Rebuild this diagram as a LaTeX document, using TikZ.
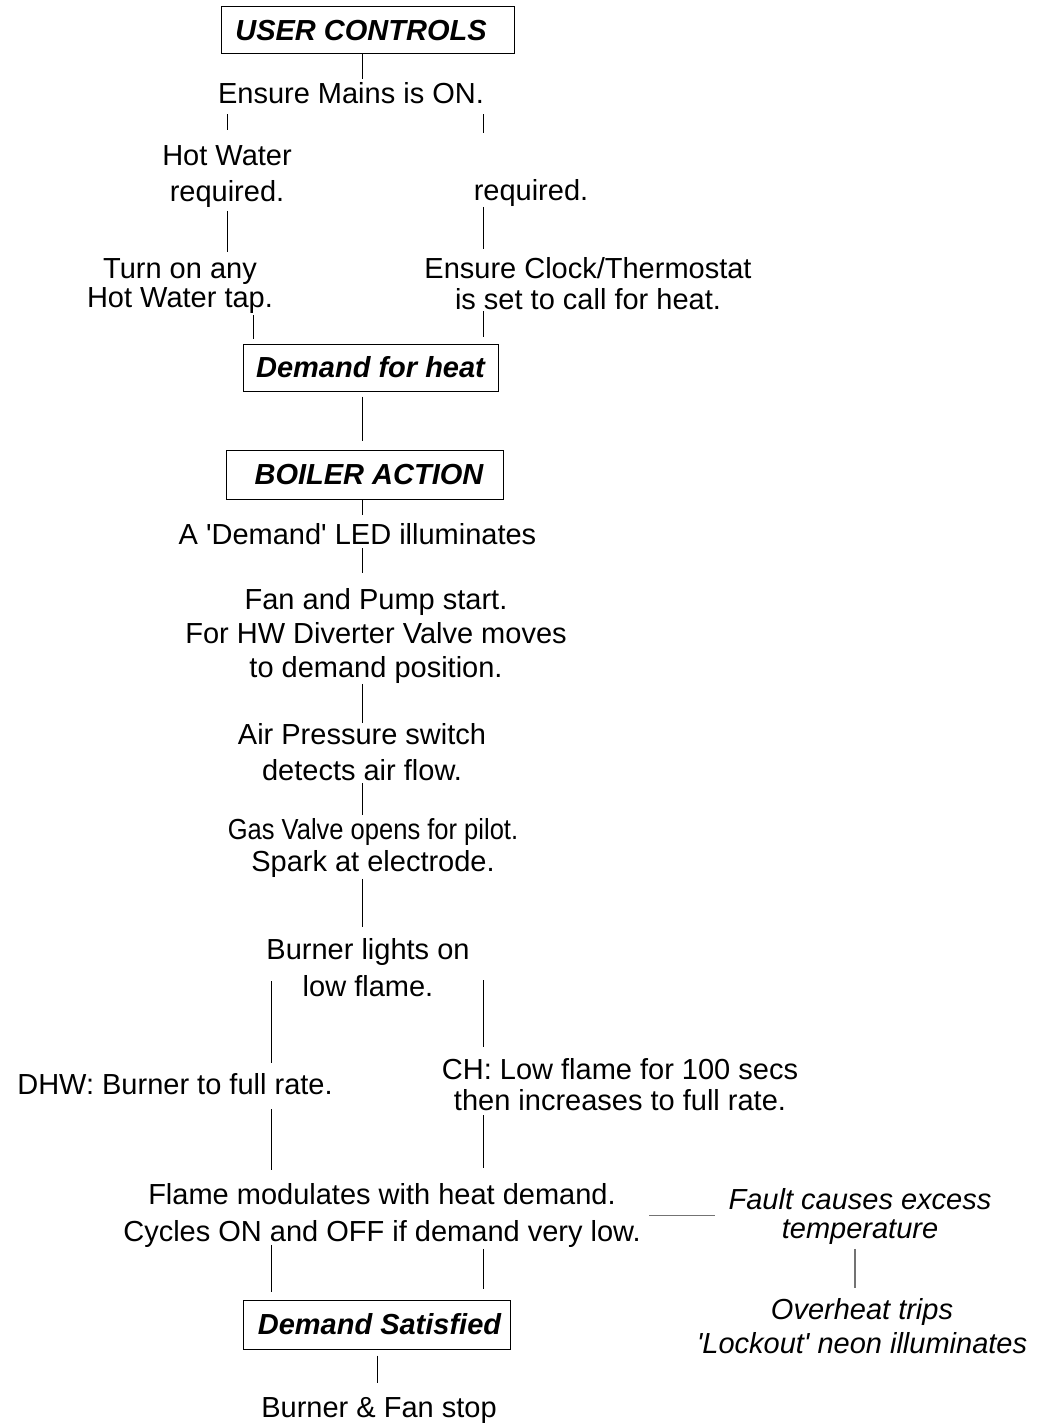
\documentclass[tikz,border=0pt]{standalone}
\usepackage{fontspec}
\setmainfont{Liberation Sans}
\newfontfamily\narrowfont[FakeStretch=0.88]{Liberation Sans}

\begin{document}
\begin{tikzpicture}[
		x=0.5pt, y=-0.5pt,
		box/.style={draw, line width=0.5pt, inner sep=0pt, font=\fontsize{14.5pt}{16pt}\selectfont\bfseries\itshape},
		txt/.style={align=center, inner sep=0pt, anchor=north, font=\fontsize{14.5pt}{#1}\selectfont},
		txt/.default=16pt,
		ital/.style={txt=#1, font=\fontsize{14.5pt}{#1}\selectfont\itshape},
		ln/.style={line width=0.5pt},
		fln/.style={line width=0.8pt, black!55}
	]
	\useasboundingbox (0,0) rectangle (1046,1423);

	\node[box, minimum width=146.5pt, minimum height=23.5pt] (user) at (368,30.5) {USER CONTROLS\hspace*{7pt}};
	\node[txt] (mains) at (351,82) {Ensure Mains is ON.};
	\node[txt=18pt] (hw) at (227,145) {Hot Water\\ required.};
	\node[txt] (heat) at (531,179) {required.};
	\node[txt=14.5pt] (tap) at (180,258) {Turn on any\\ Hot Water tap.};
	\node[txt=15.5pt] (clock) at (588,257) {Ensure Clock/Thermostat\\ is set to call for heat.};
	\node[box, minimum width=127.5pt, minimum height=23.5pt] (demand) at (370.5,367.5) {Demand for heat};

	\node[box, minimum width=138.5pt, minimum height=24.5pt] (boiler) at (364.5,474.5) {\hspace*{4.5pt}BOILER ACTION};
	\node[txt] (led) at (357.5,523) {A \textquotesingle Demand\textquotesingle{} LED illuminates};
	\node[txt=17pt] (fan) at (376,588) {Fan and Pump start.\\ For HW Diverter Valve moves\\ to demand position.};
	\node[txt=18pt] (air) at (362,723) {Air Pressure switch\\ detects air flow.};
	\node[txt=16pt] (gas) at (373,818) {{\narrowfont Gas Valve opens for pilot.}\\ Spark at electrode.};
	\node[txt=18.5pt] (burn) at (368,938) {Burner lights on\\ low flame.};
	\node[txt] (dhw) at (175,1073) {DHW: Burner to full rate.};
	\node[txt=15.5pt] (ch) at (620,1058) {CH: Low flame for 100 secs\\ then increases to full rate.};
	\node[txt=18.5pt] (flame) at (382,1183) {Flame modulates with heat demand.\\ Cycles ON and OFF if demand very low.};
	\node[ital=14.5pt] (fault) at (860,1188) {Fault causes excess\\ temperature};
	\node[ital=17pt] (over) at (862,1298) {Overheat trips\\ \textquotesingle Lockout\textquotesingle{} neon illuminates};
	\node[box, minimum width=133.5pt, minimum height=24.5pt] (sat) at (376.5,1324.5) {\hspace*{3pt}Demand Satisfied};
	\node[txt] (stop) at (379,1397) {Burner \& Fan stop};

	\coordinate (cM) at (362.5,0);
	\coordinate (cL) at (227,0);
	\coordinate (cT) at (253,0);
	\coordinate (cR) at (483,0);
	\coordinate (cD) at (271,0);
	\coordinate (cS) at (377,0);
	\coordinate (cF) at (855,0);

	\draw[ln, shorten >=1.5pt] (user.south -| cM) -- (mains.north -| cM);
	\draw[ln, shorten <=5pt, shorten >=7.5pt] (mains.south -| cL) -- (hw.north -| cL);
	\draw[ln, shorten <=5pt, shorten >=23pt] (mains.south -| cR) -- (heat.north -| cR);
	\draw[ln, shorten <=1.5pt, shorten >=3pt] (hw.south -| cL) -- (tap.north -| cL);
	\draw[ln, shorten >=4pt] (heat.south -| cR) -- (clock.north -| cR);
	\draw[ln, shorten <=0.5pt, shorten >=2.5pt] (tap.south -| cT) -- (demand.north -| cT);
	\draw[ln, shorten <=0.5pt, shorten >=3.5pt] (clock.south -| cR) -- (demand.north -| cR);
	\draw[ln, shorten <=2.5pt, shorten >=4.5pt] (demand.south -| cM) -- (boiler.north -| cM);

	\draw[ln, shorten >=4pt] (boiler.south -| cM) -- (led.north -| cM);
	\draw[ln, shorten <=1.5pt, shorten >=7.5pt] (led.south -| cM) -- (fan.north -| cM);
	\draw[ln] (fan.south -| cM) -- (air.north -| cM);
	\draw[ln, shorten <=1pt, shorten >=1.5pt] (air.south -| cM) -- (gas.north -| cM);
	\draw[ln, shorten <=0.5pt, shorten >=5.5pt] (gas.south -| cM) -- (burn.north -| cM);
	\draw[ln, shorten <=-8pt, shorten >=5pt] (burn.south -| cD) -- (dhw.north -| cD);
	\draw[ln, shorten <=-8.5pt, shorten >=5.5pt] (burn.south -| cR) -- (ch.north -| cR);
	\draw[ln, shorten <=7pt, shorten >=6.5pt] (dhw.south -| cD) -- (flame.north -| cD);
	\draw[ln, shorten <=2pt, shorten >=7.5pt] (ch.south -| cR) -- (flame.north -| cR);
	\draw[ln, shorten <=-1.5pt, shorten >=4pt] (flame.south -| cD) -- (sat.north -| cD);
	\draw[ln, shorten <=0.5pt, shorten >=5.5pt] (flame.south -| cR) -- (sat.north -| cR);
	\draw[ln, shorten <=3pt, shorten >=7pt] (sat.south -| cS) -- (stop.north -| cS);

	\draw[fln, shorten <=4pt, shorten >=6.5pt] (flame.east) -- (flame.east -| fault.west);
	\draw[fln, shorten <=2pt, shorten >=5pt] (fault.south -| cF) -- (over.north -| cF);
\end{tikzpicture}
\end{document}
